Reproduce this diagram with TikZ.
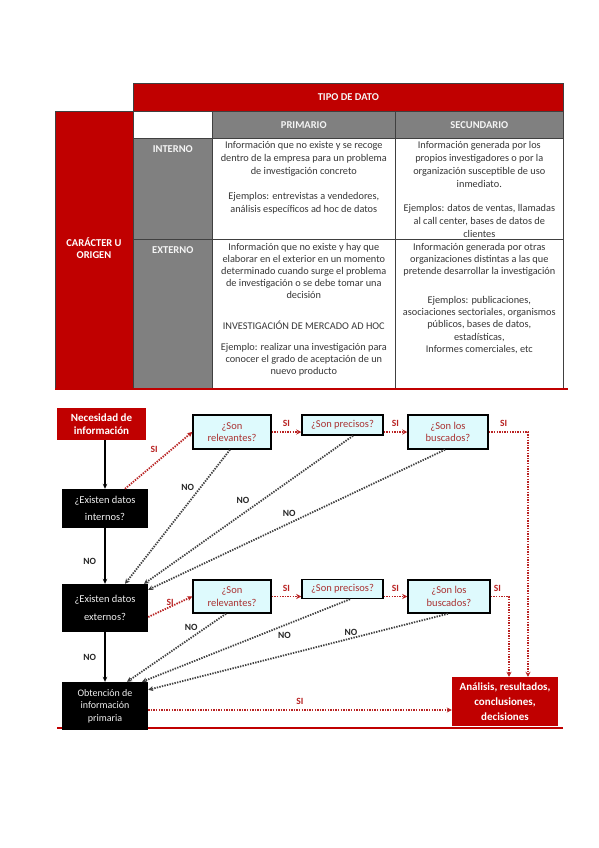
\documentclass[tikz,border=0pt]{standalone}
\usepackage{fontspec}
\setmainfont{Carlito}
\usetikzlibrary{arrows.meta}

\definecolor{rojo}{RGB}{192,0,0}
\definecolor{gris}{RGB}{128,128,128}
\definecolor{celeste}{RGB}{222,250,253}
\definecolor{rojolinea}{RGB}{185,35,35}
\definecolor{rojotexto}{RGB}{170,50,50}
\definecolor{texto}{RGB}{55,55,55}

\begin{document}
\begin{tikzpicture}[
    x=1pt, y=-1pt,
    tabla/.style={draw=black!75, line width=0.6pt, anchor=north west, inner sep=0pt},
    cabecera/.style={text=white!92!gray, font=\fontsize{10.5}{12}\selectfont\bfseries},
    celda/.style={anchor=north, align=center, inner sep=0pt, text=texto},
    caja/.style={draw=black, line width=1.5pt, fill=celeste, text=rojotexto, align=center, inner sep=0pt, font=\fontsize{10.5}{12.5}\selectfont},
    negra/.style={fill=black, text=white!88!gray, align=center, inner sep=0pt, minimum width=86pt},
    roja/.style={fill=rojo, text=white, align=center, inner sep=0pt, font=\fontsize{11}{13}\selectfont\bfseries},
    solida/.style={-{Stealth[length=5pt,width=4.5pt]}, line width=1.2pt},
    punteado/.style={line width=1.8pt, dash pattern=on 1.4pt off 1.2pt, -{Stealth[length=5pt,width=5pt]}},
    si/.style={punteado, draw=rojolinea},
    no/.style={punteado, draw=black!75},
    etsi/.style={text=rojolinea, font=\fontsize{9.5}{10}\selectfont\bfseries},
    etno/.style={text=black!85, font=\fontsize{9.5}{10}\selectfont\bfseries}
]
    \path[use as bounding box, fill=white] (0,0) rectangle (599,848);

    % tabla
    \node[tabla, fill=rojo, cabecera, minimum width=430pt, minimum height=28pt] (tipo) at (133,83) {TIPO DE DATO};
    \node[tabla, fill=rojo, minimum width=78pt, minimum height=277pt] (origen) at (55,111) {};
    \node[tabla, minimum width=79pt, minimum height=27pt] (vacio) at (133,111) {};
    \node[tabla, fill=gris, cabecera, minimum width=183pt, minimum height=27pt] (prim) at (212,111) {PRIMARIO};
    \node[tabla, fill=gris, cabecera, minimum width=168pt, minimum height=27pt] (secu) at (395,111) {SECUNDARIO};
    \node[tabla, fill=gris, minimum width=79pt, minimum height=101pt] (interno) at (133,138) {};
    \node[tabla, minimum width=183pt, minimum height=101pt] (intprim) at (212,138) {};
    \node[tabla, minimum width=168pt, minimum height=101pt] (intsecu) at (395,138) {};
    \node[tabla, fill=gris, minimum width=79pt, minimum height=149pt] (externo) at (133,239) {};
    \node[tabla, minimum width=183pt, minimum height=149pt] (extprim) at (212,239) {};
    \node[tabla, minimum width=168pt, minimum height=149pt] (extsecu) at (395,239) {};
    \draw[rojo, line width=1.8pt] (origen.south west) -- ++(513,0);

    \node[cabecera, text=white, align=center] (origentxt) at (94,248) {CARÁCTER U\\ORIGEN};
    \node[cabecera, anchor=north] (internotxt) at ([yshift=-4pt]interno.north) {INTERNO};
    \node[cabecera, anchor=north] (externotxt) at ([yshift=-4pt]externo.north) {EXTERNO};
    \node[celda, font=\fontsize{10.3}{13}\selectfont] (intprimtxt) at ([yshift=-3pt]intprim.north)
        {Información que no existe y se recoge\\dentro de la empresa para un problema\\de investigación concreto\\[12pt]
         Ejemplos: entrevistas a vendedores,\\análisis específicos ad hoc de datos};
    \node[celda, font=\fontsize{10.3}{13}\selectfont] (intsecutxt) at ([yshift=-3pt]intsecu.north)
        {Información generada por los\\propios investigadores o por la\\organización susceptible de uso\\inmediato.\\[11pt]
         Ejemplos: datos de ventas, llamadas\\al call center, bases de datos de\\clientes};
    \node[celda, font=\fontsize{10.3}{12}\selectfont] (extprimtxt) at ([yshift=-4pt]extprim.north)
        {Información que no existe y hay que\\elaborar en el exterior en un momento\\determinado cuando surge el problema\\de investigación o se debe tomar una\\decisión\\[19pt]
         INVESTIGACIÓN DE MERCADO AD HOC\\[9pt]
         Ejemplo: realizar una investigación para\\conocer el grado de aceptación de un\\nuevo producto};
    \node[celda, font=\fontsize{10.3}{12.3}\selectfont] (extsecutxt) at ([yshift=-4pt]extsecu.north)
        {Información generada por otras\\organizaciones distintas a las que\\pretende desarrollar la investigación\\[16pt]
         Ejemplos: publicaciones,\\asociaciones sectoriales, organismos\\públicos, bases de datos,\\estadísticas,\\Informes comerciales, etc};

    % diagrama
    \draw[rojo, line width=1.8pt] (57,728) -- (563,728);
    \node[roja, minimum width=89pt, minimum height=32pt] (nec) at (101.5,424) {Necesidad de\\información};
    \node[negra, minimum height=39pt, font=\fontsize{10.5}{17}\selectfont] (int) at (105,508.5) {¿Existen datos\\internos?};
    \node[negra, minimum height=48pt, font=\fontsize{10.5}{18}\selectfont] (ext) at (105,608) {¿Existen datos\\externos?};
    \node[negra, minimum height=48pt, font=\fontsize{10}{12.5}\selectfont] (obt) at (105,706) {Obtención de\\información\\primaria};
    \node[roja, minimum width=106pt, minimum height=49pt, font=\fontsize{11}{15}\selectfont\bfseries] (ana) at (505,701.5) {Análisis, resultados,\\conclusiones,\\decisiones};

    \node[caja, minimum width=78pt, minimum height=34pt] (rel1) at (232,432) {¿Son\\relevantes?};
    \node[caja, minimum width=81pt, minimum height=20pt] (pre1) at (342.5,425) {¿Son precisos?};
    \node[caja, minimum width=80pt, minimum height=34pt] (bus1) at (448,432) {¿Son los\\buscados?};
    \node[caja, minimum width=78pt, minimum height=33pt] (rel2) at (232,596.5) {¿Son\\relevantes?};
    \node[caja, minimum width=81pt, minimum height=19pt] (pre2) at (342.5,589) {¿Son precisos?};
    \node[caja, minimum width=82pt, minimum height=33pt] (bus2) at (449,596.5) {¿Son los\\buscados?};

    % flechas
    \draw[solida] (int.north |- nec.south) -- (int.north);
    \draw[solida] (int) -- node[etno, pos=0.6, left=5pt] {NO} (ext);
    \draw[solida] (ext) -- node[etno, midway, left=5pt] {NO} (obt);

    \draw[si] ([xshift=20pt]int.north) -- node[etsi, pos=0.7, xshift=-18pt] {SI} (rel1.west);
    \draw[si] (rel1.east) -- node[etsi, midway, above=1pt] {SI} (rel1.east -| pre1.west);
    \draw[si] (bus1.west -| pre1.east) -- node[etsi, midway, above=1pt] {SI} (bus1.west);
    \draw[si] (bus1.east) -| node[etsi, pos=0.19, above=1pt] {SI} ([xshift=23pt]ana.north);

    \draw[si] ([yshift=-9pt]ext.east) -- node[etsi, pos=0.68, xshift=-8pt, yshift=1pt] {SI} (rel2.west);
    \draw[si] (rel2.east) -- node[etsi, midway, above=1pt] {SI} (rel2.east -| pre2.west);
    \draw[si] (bus2.west -| pre2.east) -- node[etsi, midway, above=1pt] {SI} (bus2.west);
    \draw[si] (bus2.east) -| node[etsi, pos=0.18, above=1pt] {SI} ([xshift=4pt]ana.north);

    \draw[si] ([yshift=-4pt]obt.east) -- node[etsi, midway, above=1pt] {SI} ([yshift=-4pt]obt.east -| ana.west);

    \draw[no] ([xshift=-2pt]rel1.south) -- node[etno, pos=0.28, xshift=-13pt] {NO} ([xshift=20pt]ext.north);
    \draw[no] ([xshift=10.5pt]pre1.south) -- node[etno, pos=0.436, xshift=-19pt] {NO} ([xshift=39pt]ext.north);
    \draw[no] ([xshift=-3pt]bus1.south) -- node[etno, pos=0.454, xshift=-21pt] {NO} ([yshift=-6pt]ext.north east);

    \draw[no] ([xshift=-6pt]rel2.south) -- node[etno, pos=0.2, xshift=-15pt] {NO} ([xshift=22pt]obt.north);
    \draw[no] ([xshift=7.5pt]pre2.south) -- node[etno, pos=0.44, xshift=26pt] {NO} ([xshift=37pt]obt.north);
    \draw[no] ([xshift=-1pt]bus2.south) -- node[etno, pos=0.247, xshift=-23pt] {NO} ([yshift=-8pt]obt.north east);
\end{tikzpicture}
\end{document}
